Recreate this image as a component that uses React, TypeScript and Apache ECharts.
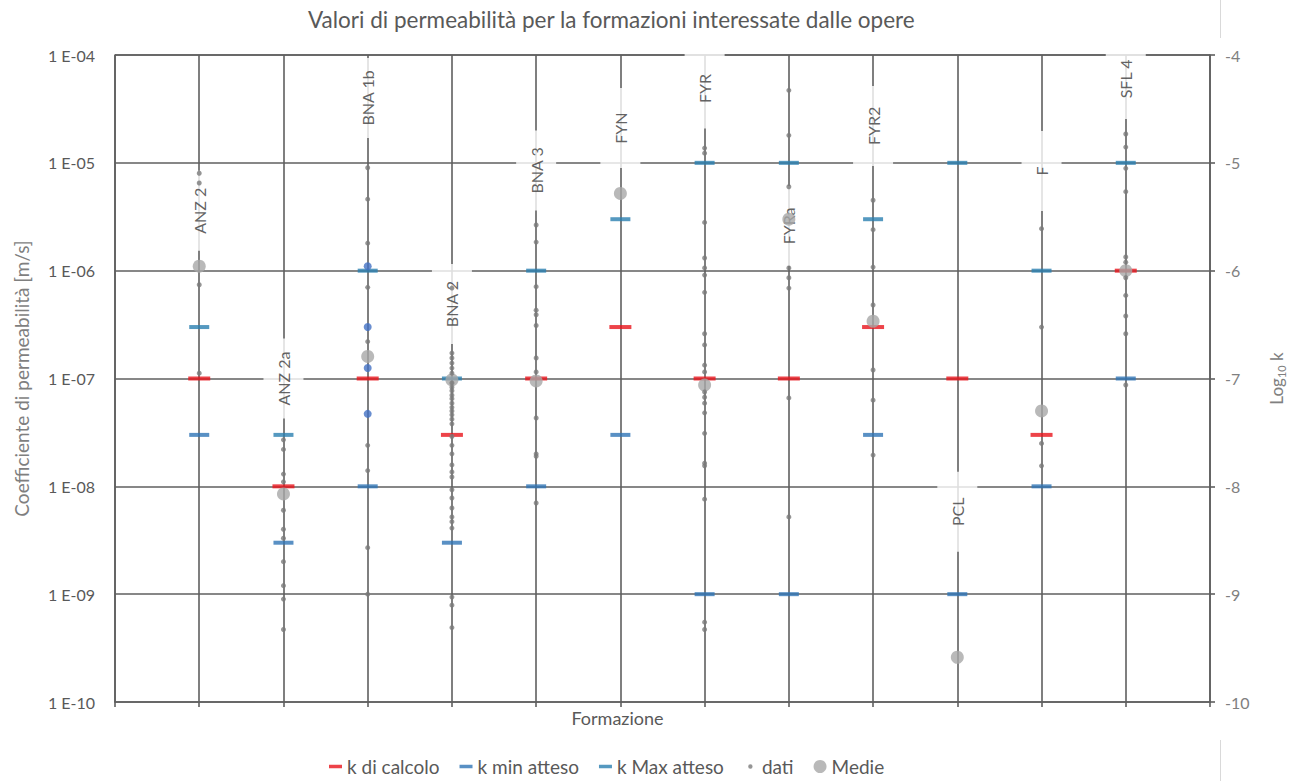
import React, { useEffect, useRef } from 'react';
import * as echarts from 'echarts';

const FONT = 'Lato, "Open Sans", "DejaVu Sans", sans-serif';

// Formations along the horizontal axis (positions 1..12)
const formazioni = ['ANZ 2', 'ANZ 2a', 'BNA 1b', 'BNA 2', 'BNA 3', 'FYN', 'FYR', 'FYRa', 'FYR2', 'PCL', 'F', 'SFL 4'];

// Where each formation's name box sits on its vertical line [m/s]
const posizioneNome = [3.6e-6, 1e-7, 4e-5, 4.9e-7, 8.5e-6, 2.1e-5, 4.9e-5, 2.6e-6, 2.2e-5, 5.8e-9, 8.4e-6, 6e-5];

// Design permeability and expected range [m/s]
const kCalcolo = [1e-7, 1e-8, 1e-7, 3e-8, 1e-7, 3e-7, 1e-7, 1e-7, 3e-7, 1e-7, 3e-8, 1e-6];
const kMinAtteso = [3e-8, 3e-9, 1e-8, 3e-9, 1e-8, 3e-8, 1e-9, 1e-9, 3e-8, 1e-9, 1e-8, 1e-7];
const kMaxAtteso = [3e-7, 3e-8, 1e-6, 1e-7, 1e-6, 3e-6, 1e-5, 1e-5, 3e-6, 1e-5, 1e-6, 1e-5];

// Mean of the measured values per formation [m/s]
const medie = [1.1e-6, 8.5e-9, 1.6e-7, 9.7e-8, 9.5e-8, 5.2e-6, 8.7e-8, 3e-6, 3.4e-7, 2.6e-10, 5e-8, 1e-6];

// Measured values per formation [m/s]
const datiANZ2 = [8e-6, 6.5e-6, 7.4e-7, 1.12e-7];
const datiANZ2a = [2.7e-8, 2.2e-8, 1.3e-8, 1.1e-8, 6e-9, 4e-9, 3.3e-9, 2e-9, 1.2e-9, 9e-10, 4.7e-10];
const datiBNA1b = [9e-6, 4.6e-6, 1.8e-6, 7e-7, 2.2e-7, 2.4e-8, 1.4e-8, 2.7e-9, 1e-9];
const datiBNA2 = [
  6.9e-7, 1.72e-7, 1.55e-7, 1.39e-7, 1.25e-7, 1.12e-7, 9.1e-8, 8.3e-8, 7.7e-8, 7e-8, 6.5e-8, 5.9e-8, 5.4e-8,
  5e-8, 4.6e-8, 4.2e-8, 3.8e-8, 2.9e-8, 2.4e-8, 2e-8, 1.58e-8, 1.36e-8, 1.22e-8, 9.3e-9, 7.8e-9, 6.3e-9,
  5.2e-9, 4.7e-9, 4.1e-9, 9.4e-10, 7.9e-10, 4.9e-10,
];
const datiBNA3 = [2.65e-6, 1.84e-6, 7.1e-7, 4.3e-7, 3.9e-7, 3.1e-7, 1.55e-7, 1.15e-7, 4.3e-8, 2e-8, 1.9e-8, 7e-9];
const datiFYN: number[] = [];
const datiFYR = [
  1.37e-5, 1.23e-5, 2.8e-6, 1.31e-6, 1.06e-6, 9.1e-7, 6.3e-7, 2.6e-7, 2.05e-7, 1.33e-7, 1.15e-7, 7.5e-8,
  6.7e-8, 5.9e-8, 4.8e-8, 3.1e-8, 1.64e-8, 1.55e-8, 7.6e-9, 5.5e-10, 4.7e-10,
];
const datiFYRa = [4.7e-5, 1.8e-5, 6e-6, 1.06e-6, 8.6e-7, 6.9e-7, 6.6e-8, 5.2e-9];
const datiFYR2 = [4.5e-6, 2.4e-6, 1.08e-6, 4.8e-7, 1.2e-7, 6.3e-8, 1.95e-8];
const datiPCL: number[] = [];
const datiF = [2.45e-6, 3e-7, 2.5e-8, 1.55e-8];
const datiSFL4 = [1.85e-5, 1.4e-5, 8.9e-6, 5.4e-6, 1.34e-6, 1.2e-6, 8.6e-7, 5.9e-7, 3.8e-7, 2.6e-7, 8.7e-8];

const datiPerFormazione = [
  datiANZ2, datiANZ2a, datiBNA1b, datiBNA2, datiBNA3, datiFYN,
  datiFYR, datiFYRa, datiFYR2, datiPCL, datiF, datiSFL4,
];

// Test values highlighted in blue on the BNA 1b line [m/s]
const evidenziatiBNA1b = [1.1e-6, 3e-7, 1.25e-7, 4.7e-8];

// Axis range
const K_MIN = 1e-10;
const K_MAX = 1e-4;
const LOG_MIN = -10;
const LOG_MAX = -4;

// Log minor grid: 2..9 times each decade
const griglia: number[] = [];
for (let d = LOG_MIN; d < LOG_MAX; d++) {
  for (let m = 2; m <= 9; m++) griglia.push(m * Math.pow(10, d));
}

const perPosizione = (vals: number[]) => vals.map((v, i) => [i + 1, v]);
const DASH = 'path://M0,0h13v3.5h-13z';
const DOT = 'path://M0,0M13,13M4.3,6.5a2.2,2.2 0 1,0 4.4,0a2.2,2.2 0 1,0 -4.4,0z';

const formatExp = (v: number) => {
  const e = Math.round(Math.log10(v));
  return '1 E-' + String(-e).padStart(2, '0');
};

const GRID_LINE = { color: '#5f5f5f', width: 1.6 };

const option: any = {
  animation: false,
  backgroundColor: '#ffffff',
  textStyle: { fontFamily: FONT },
  title: {
    text: 'Valori di permeabilità per la formazioni interessate dalle opere',
    left: 303,
    top: 3,
    textStyle: { fontFamily: FONT, fontSize: 22.5, fontWeight: 'normal', color: '#595959' },
  },
  legend: {
    left: 324,
    top: 752,
    itemWidth: 13,
    itemHeight: 13,
    itemGap: 20,
    textStyle: { fontFamily: FONT, fontSize: 19, color: '#595959' },
    data: [
      { name: 'k di calcolo', icon: DASH },
      { name: 'k min atteso', icon: DASH },
      { name: 'k Max atteso', icon: DASH },
      { name: 'dati', icon: DOT },
      { name: 'Medie', icon: 'circle' },
    ],
  },
  grid: { left: 115, right: 83, top: 55, bottom: 79, containLabel: false },
  xAxis: {
    type: 'value',
    min: 0,
    max: 13,
    interval: 1,
    name: 'Formazione',
    nameLocation: 'middle',
    nameGap: 7,
    nameTextStyle: {
      fontFamily: FONT,
      fontSize: 18,
      color: '#595959',
      verticalAlign: 'top',
      padding: [0, 90, 0, 0],
    },
    axisLine: { show: true, lineStyle: GRID_LINE },
    axisTick: { show: true, length: 5, lineStyle: GRID_LINE },
    axisLabel: { show: false },
    splitLine: { show: true, lineStyle: GRID_LINE },
  },
  yAxis: [
    {
      type: 'log',
      logBase: 10,
      min: K_MIN,
      max: K_MAX,
      position: 'left',
      name: 'Coefficiente di permeabilità [m/s]',
      nameLocation: 'middle',
      nameRotate: 90,
      nameGap: 84,
      nameTextStyle: { fontFamily: FONT, fontSize: 19, color: '#7f7f7f' },
      axisLine: { show: true, lineStyle: GRID_LINE },
      axisTick: { show: false },
      axisLabel: { formatter: formatExp, fontFamily: FONT, fontSize: 16, color: '#595959', margin: 20 },
      splitLine: { show: true, lineStyle: GRID_LINE },
    },
    {
      type: 'value',
      min: LOG_MIN,
      max: LOG_MAX,
      interval: 1,
      position: 'right',
      name: '{a|Log}{b|10}{a| k}',
      nameLocation: 'middle',
      nameRotate: 90,
      nameGap: 55,
      nameTextStyle: {
        rich: {
          a: { fontFamily: FONT, fontSize: 17, color: '#808080', lineHeight: 22 },
          b: { fontFamily: FONT, fontSize: 11, color: '#808080', verticalAlign: 'bottom', lineHeight: 14 },
        },
      },
      axisLine: { show: true, lineStyle: GRID_LINE },
      axisTick: { show: true, length: 5, lineStyle: GRID_LINE },
      axisLabel: { fontFamily: FONT, fontSize: 16, color: '#808080', margin: 15 },
      splitLine: { show: false },
    },
  ],
  graphic: [
    { type: 'line', shape: { x1: 1220.5, y1: 0, x2: 1220.5, y2: 38 }, style: { stroke: '#d9d9d9', lineWidth: 1 } },
    { type: 'line', shape: { x1: 1220.5, y1: 740, x2: 1220.5, y2: 781 }, style: { stroke: '#d9d9d9', lineWidth: 1 } },
  ],
  series: [
    {
      name: 'griglia',
      type: 'scatter',
      yAxisIndex: 0,
      data: [],
      z: 0,
      silent: true,
      markLine: {
        z: 0,
        silent: true,
        symbol: 'none',
        label: { show: false },
        lineStyle: { color: '#e2e2e2', width: 1, type: 'solid' },
        data: griglia.map((v) => ({ yAxis: v })),
      },
    },
    {
      name: 'nomi',
      type: 'scatter',
      yAxisIndex: 0,
      z: 1,
      silent: true,
      symbolSize: 1,
      itemStyle: { color: 'rgba(0,0,0,0)' },
      data: perPosizione(posizioneNome),
      label: {
        show: true,
        position: 'inside',
        rotate: 90,
        formatter: (p: any) => formazioni[p.dataIndex],
        backgroundColor: '#ffffff',
        width: 80,
        height: 40,
        lineHeight: 40,
        align: 'center',
        verticalAlign: 'middle',
        fontFamily: FONT,
        fontSize: 16,
        color: '#3a3a3a',
      },
    },
    {
      name: 'k di calcolo',
      type: 'scatter',
      yAxisIndex: 0,
      z: 2,
      symbol: 'rect',
      symbolSize: [22, 4],
      itemStyle: { color: '#e8141c' },
      data: perPosizione(kCalcolo),
    },
    {
      name: 'k min atteso',
      type: 'scatter',
      yAxisIndex: 0,
      z: 2,
      symbol: 'rect',
      symbolSize: [20, 4],
      itemStyle: { color: '#2f74b5' },
      data: perPosizione(kMinAtteso),
    },
    {
      name: 'k Max atteso',
      type: 'scatter',
      yAxisIndex: 0,
      z: 2,
      symbol: 'rect',
      symbolSize: [20, 4],
      itemStyle: { color: '#2a7fb0' },
      data: perPosizione(kMaxAtteso),
    },
    {
      name: 'Medie',
      type: 'scatter',
      yAxisIndex: 0,
      z: 3,
      symbol: 'circle',
      symbolSize: 13,
      itemStyle: { color: '#a8a8a8' },
      data: perPosizione(medie),
    },
    {
      name: 'dati',
      type: 'scatter',
      yAxisIndex: 0,
      z: 4,
      symbol: 'circle',
      symbolSize: 5,
      itemStyle: { color: '#7a7a7a' },
      data: datiPerFormazione.flatMap((vals, i) => vals.map((v) => [i + 1, v])),
    },
    {
      name: 'dati BNA 1b',
      type: 'scatter',
      yAxisIndex: 0,
      z: 4,
      symbol: 'circle',
      symbolSize: 8,
      itemStyle: { color: '#4472c4' },
      data: evidenziatiBNA1b.map((v) => [3, v]),
    },
  ],
};

export default function App() {
  const ref = useRef<HTMLDivElement>(null);
  useEffect(() => {
    if (!ref.current) return;
    const chart = echarts.init(ref.current, null, { renderer: 'svg' });
    chart.setOption(option);
    return () => chart.dispose();
  }, []);
  return (
    <div
      ref={ref}
      style={{ position: 'fixed', left: 0, top: 0, width: 1295, height: 781, background: '#ffffff' }}
    />
  );
}
